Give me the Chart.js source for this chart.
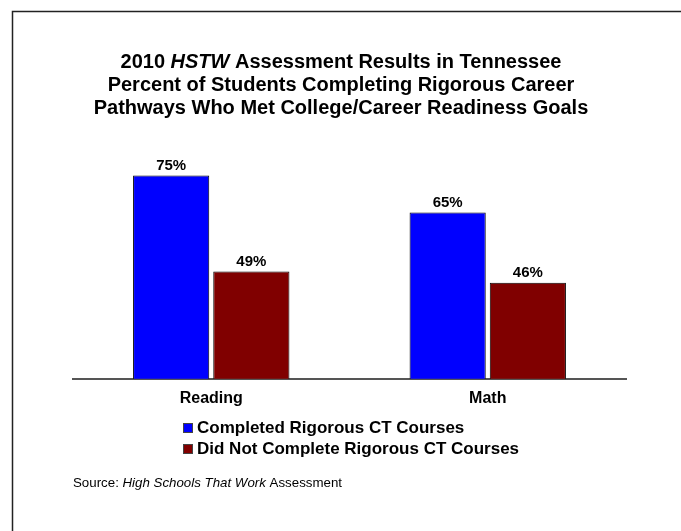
<!DOCTYPE html>
<html lang="en">
<head>
    <meta charset="UTF-8">
    <title>2010 HSTW Assessment Results in Tennessee</title>
    <script src="https://cdn.jsdelivr.net/npm/chart.js"></script>
    <style>
        body { margin: 0; padding: 0; background: #fff; }
        .container { width: 681px; height: 531px; position: relative; }
    </style>
</head>
<body>
    <div class="container">
        <canvas id="myChart" width="681" height="531"></canvas>
    </div>

    <script>
        // data
        const categories = ['Reading', 'Math'];
        const seriesNames = ['Completed Rigorous CT Courses', 'Did Not Complete Rigorous CT Courses'];
        const completedValues = [75, 65];
        const notCompletedValues = [49, 46];
        const seriesColors = ['#0000FF', '#800000'];

        const titleLines = [
            [['2010 ', false], ['HSTW', true], [' Assessment Results in Tennessee', false]],
            [['Percent of Students Completing Rigorous Career', false]],
            [['Pathways Who Met College/Career Readiness Goals', false]]
        ];
        const sourceParts = [['Source: ', false], ['High Schools That Work', true], [' Assessment', false]];

        const FONT = 'Arial, "Liberation Sans", sans-serif';

        // draws a line made of normal / italic pieces
        function drawMixed(ctx, parts, x, y, size, bold, align) {
            const fontFor = it => (it ? 'italic ' : '') + (bold ? 'bold ' : '') + size + 'px ' + FONT;
            let total = 0;
            parts.forEach(p => { ctx.font = fontFor(p[1]); total += ctx.measureText(p[0]).width; });
            let cx = align === 'center' ? x - total / 2 : x;
            ctx.textAlign = 'left';
            parts.forEach(p => {
                ctx.font = fontFor(p[1]);
                ctx.fillText(p[0], cx, y);
                cx += ctx.measureText(p[0]).width;
            });
        }

        const decorations = {
            id: 'decorations',
            afterDraw: chart => {
                const ctx = chart.ctx;
                ctx.save();
                // frame
                ctx.strokeStyle = '#222';
                ctx.lineWidth = 1.5;
                ctx.strokeRect(12.5, 11.5, 720, 600);

                ctx.fillStyle = '#000';
                ctx.textBaseline = 'middle';
                titleLines.forEach((line, i) => {
                    drawMixed(ctx, line, 341, 62 + i * 23, 20, true, 'center');
                });

                // value labels
                ctx.font = 'bold 15px ' + FONT;
                ctx.textAlign = 'center';
                ctx.textBaseline = 'bottom';
                chart.data.datasets.forEach((ds, i) => {
                    chart.getDatasetMeta(i).data.forEach((bar, j) => {
                        ctx.fillText(ds.data[j] + '%', bar.x, bar.y - 2);
                    });
                });

                // legend
                ctx.textBaseline = 'middle';
                ctx.textAlign = 'left';
                ctx.font = 'bold 17px ' + FONT;
                chart.data.datasets.forEach((ds, i) => {
                    const y = 428 + i * 21;
                    ctx.fillStyle = ds.backgroundColor;
                    ctx.fillRect(183, y - 5, 10, 10);
                    ctx.strokeStyle = '#444';
                    ctx.lineWidth = 1;
                    ctx.strokeRect(183.5, y - 4.5, 9, 9);
                    ctx.fillStyle = '#000';
                    ctx.fillText(ds.label, 197, y);
                });

                // source
                ctx.textBaseline = 'middle';
                drawMixed(ctx, sourceParts, 73, 483, 13.3, false, 'left');
                ctx.restore();
            }
        };

        const ctx = document.getElementById('myChart').getContext('2d');
        new Chart(ctx, {
            type: 'bar',
            data: {
                labels: categories,
                datasets: [
                    { label: seriesNames[0], data: completedValues, backgroundColor: seriesColors[0] },
                    { label: seriesNames[1], data: notCompletedValues, backgroundColor: seriesColors[1] }
                ]
            },
            options: {
                responsive: false,
                animation: false,
                layout: { padding: { left: 73, right: 55, top: 157, bottom: 121 } },
                datasets: {
                    bar: {
                        borderColor: '#000',
                        borderWidth: 1,
                        categoryPercentage: 0.58,
                        barPercentage: 0.95
                    }
                },
                scales: {
                    x: {
                        grid: { display: false },
                        border: { display: true, color: '#555', width: 2 },
                        ticks: { color: '#000', font: { family: FONT, size: 16, weight: 'bold' }, padding: 2 }
                    },
                    y: {
                        display: false,
                        min: 20,
                        max: 80
                    }
                },
                plugins: {
                    legend: { display: false },
                    tooltip: { enabled: false }
                }
            },
            plugins: [decorations]
        });
    </script>
</body>
</html>
